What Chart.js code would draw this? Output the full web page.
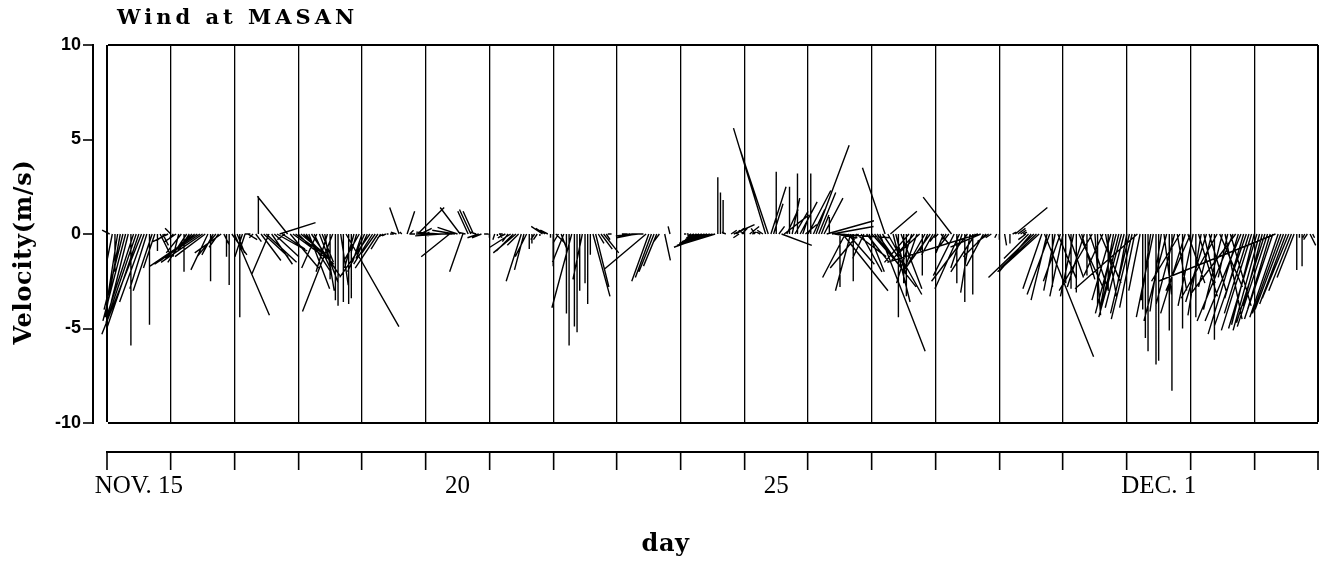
<!DOCTYPE html>
<html>
<head>
<meta charset="utf-8">
<script src="https://cdn.jsdelivr.net/npm/chart.js@4/dist/chart.umd.min.js"></script>
<style>
html,body{margin:0;padding:0;background:#fff;}
#wrap{width:1322px;height:568px;}
</style>
</head>
<body>
<div id="wrap"><canvas id="c" width="1322" height="568"></canvas></div>
<script>
// ---- texts ----
const chartTitle = 'Wind at MASAN';
const yAxisTitle = 'Velocity(m/s)';
const xAxisTitle = 'day';
// one label per day boundary (0 = NOV. 15 00h ... 19 = DEC. 4 00h); drawn mid-day
const dayTickLabels = ['NOV. 15','','','','','20','','','','','25','','','','','','DEC. 1','','',''];
const totalDays = 19;

// ---- hourly wind records: hour since NOV. 15 00h, east (u) and north (v) components, m/s ----
const stickHours = [
  0,1,2,3,4,5,6,7,8,9,10,11,12,13,14,15,16,17,18,19,20,21,22,23,
  24,25,26,27,28,29,30,31,32,33,34,35,36,37,38,39,40,41,42,43,44,45,46,47,
  48,49,50,51,52,53,54,55,56,57,58,59,60,61,62,63,64,65,66,67,68,69,70,71,
  72,73,74,75,76,77,78,79,80,81,82,83,84,85,86,87,88,89,90,91,92,93,94,95,
  96,97,98,99,100,101,102,103,104,105,106,107,108,109,110,111,112,113,114,115,116,117,118,119,
  120,121,122,123,124,125,126,127,128,129,130,131,132,133,134,135,136,137,138,139,140,141,142,143,
  144,145,146,147,148,149,150,151,152,153,154,155,156,157,158,159,160,161,162,163,164,165,166,167,
  168,169,170,171,172,173,174,175,176,177,178,179,180,181,182,183,184,185,186,187,188,189,190,191,
  192,193,194,195,196,197,198,199,200,201,202,203,204,205,206,207,208,209,210,211,212,213,214,215,
  216,217,218,219,220,221,222,223,224,225,226,227,228,229,230,231,232,233,234,235,236,237,238,239,
  240,241,242,243,244,245,246,247,248,249,250,251,252,253,254,255,256,257,258,259,260,261,262,263,
  264,265,266,267,268,269,270,271,272,273,274,275,276,277,278,279,280,281,282,283,284,285,286,287,
  288,289,290,291,292,293,294,295,296,297,298,299,300,301,302,303,304,305,306,307,308,309,310,311,
  312,313,314,315,316,317,318,319,320,321,322,323,324,325,326,327,328,329,330,331,332,333,334,335,
  336,337,338,339,340,341,342,343,344,345,346,347,348,349,350,351,352,353,354,355,356,357,358,359,
  360,361,362,363,364,365,366,367,368,369,370,371,372,373,374,375,376,377,378,379,380,381,382,383,
  384,385,386,387,388,389,390,391,392,393,394,395,396,397,398,399,400,401,402,403,404,405,406,407,
  408,409,410,411,412,413,414,415,416,417,418,419,420,421,422,423,424,425,426,427,428,429,430,431,
  432,433,434,435,436,437,438,439,440,441,442,443,444,445,446,447,448,449,450,451,452,453,454,455
];
const windU = [
  0.0,-0.4,-0.3,0.0,-0.5,-0.8,-1.0,-1.2,-0.9,0.0,-1.4,-1.6,-1.7,-2.1,-1.3,-0.9,0.0,-1.0,-0.6,0.0,0.6,0.3,-0.4,-0.8,
  -0.3,-0.2,-0.6,-0.3,-0.8,0.0,-1.0,-0.6,-1.4,-1.8,-2.5,-2.4,-2.2,-1.6,-0.9,0.0,-0.6,-1.0,-0.5,-1.4,0.3,0.0,0.0,0.8,
  1.85,0.4,0.0,-0.4,-0.2,0.5,-0.3,-0.2,0.3,0.0,1.05,1.3,1.6,-0.9,1.1,1.3,1.6,1.9,1.2,-0.4,-1.6,1.5,1.8,1.4,
  0.8,1.2,1.6,1.3,1.1,1.5,0.9,-0.8,1.0,0.6,0.5,-0.6,0.0,-1.6,0.0,0.0,0.4,0.0,2.8,0.0,0.0,-0.5,-0.3,-0.8,
  -0.5,-0.9,-0.6,-1.6,-1.0,-0.7,-1.2,-0.5,-0.3,-0.2,-0.1,0.0,-0.2,-0.3,-0.5,-0.1,0.0,0.4,0.2,0.1,-0.3,1.4,0.6,0.3,
  0.2,-0.2,-0.4,-0.6,-0.8,-1.2,-1.4,-1.5,-1.6,-1.5,-1.6,-1.2,-1.06,-1.06,-0.7,-0.4,-0.55,-0.6,-0.55,-0.3,-0.6,-0.5,0.2,0.1,
  0.0,0.0,-0.1,0.0,0.1,-0.2,-0.4,-0.3,-1.1,-0.9,-1.2,-0.6,-0.8,-0.5,-0.6,0.0,0.0,-0.2,-0.2,0.0,-0.6,-0.5,-0.4,0.0,
  0.0,0.5,-0.3,0.3,-0.6,0.0,0.0,-1.05,0.0,0.0,0.0,-0.5,0.0,0.0,0.0,0.9,0.7,0.3,0.6,0.8,0.2,0.0,-0.2,0.0,
  0.0,0.0,0.0,-0.1,-0.3,-0.6,-0.9,-1.0,-0.8,-0.5,-0.3,-2.2,-0.9,-0.85,-0.8,-0.7,-0.3,0.0,0.3,0.0,-0.1,0.0,0.0,0.0,
  0.0,0.0,-0.1,-0.1,-0.2,-0.4,-0.6,-0.9,-1.2,-1.4,-1.6,-1.9,-1.8,-1.6,0.0,0.0,0.0,-0.2,0.0,0.3,1.1,0.4,-0.3,0.3,
  -0.3,0.0,0.5,0.2,-0.2,0.0,-0.2,-0.3,-1.7,-1.5,0.8,0.5,0.0,0.3,1.6,1.3,0.6,0.0,0.4,0.7,0.0,0.9,0.3,0.6,
  1.2,0.0,0.6,1.75,0.9,0.4,1.0,2.5,0.0,2.2,1.2,2.8,0.0,2.4,-1.2,1.4,-0.8,0.0,1.6,-1.5,1.1,-0.6,1.2,0.8,
  1.6,2.2,1.0,2.4,1.3,-1.2,1.8,1.4,0.9,0.5,0.0,1.1,0.0,0.0,-1.3,-0.8,-1.2,-0.7,-1.1,0.0,-0.9,-0.4,-1.3,-0.6,
  -0.3,-0.2,0.4,-0.4,-0.2,-0.7,-1.5,-1.1,0.0,-1.3,-0.6,0.0,-1.9,-0.5,0.0,-1.3,-4.8,-1.6,-0.9,-1.2,-0.6,-0.3,0.0,-0.1,
  0.0,0.0,0.1,0.0,0.0,0.2,1.7,0.4,0.3,0.2,-0.4,-1.3,-1.7,-2.4,-1.9,-2.2,-1.0,2.6,-0.85,-1.2,0.0,-0.6,1.0,-0.9,
  -0.7,0.0,0.8,0.0,-0.7,0.0,1.3,0.7,-0.9,0.0,1.0,-1.75,0.3,0.0,1.1,-1.0,0.6,0.0,-1.0,-0.7,-1.1,-0.9,-1.2,-1.0,
  -0.5,-1.0,-1.1,-0.8,-3.3,-0.6,0.0,0.0,0.0,-0.5,-0.9,0.0,0.0,-0.6,0.4,-1.2,0.0,0.0,-1.0,0.5,-1.5,0.0,-1.3,0.9,
  -1.3,-0.8,0.0,1.0,-0.7,0.6,-1.1,0.9,-0.7,0.0,-1.9,1.2,-1.0,0.9,-0.5,1.1,-1.9,-2.4,-1.6,-1.9,-1.0,-1.7,-1.3,-1.6,
  -1.2,-1.5,-1.4,-1.0,-1.5,-1.6,-1.2,-1.5,-6.2,-1.5,-1.5,-1.5,-1.4,-1.4,-1.2,-0.9,0.0,0.0,0.0,-0.1,-0.2,0.3,0.1,0.0
];
const windV = [
  0.0,0.2,-1.5,-2.0,-3.2,-4.4,-4.0,-4.6,-3.6,-5.9,-4.3,-4.7,-5.0,-5.3,-3.6,-2.9,-4.8,-3.0,-1.8,-0.9,-1.2,-0.6,-0.3,-0.4,
  0.3,-0.2,-0.4,-1.2,-1.0,-2.0,-1.5,-0.9,-1.3,-1.4,-1.7,-1.6,-1.5,-1.2,-1.9,-2.5,-1.1,-1.2,-0.7,-1.0,-0.6,-1.2,-2.7,-1.1,
  -4.3,-1.0,-4.4,-1.2,-0.6,-0.3,0.0,-0.2,-0.4,2.0,-1.4,-1.2,-1.5,-2.1,-1.6,-1.2,-0.9,0.6,-0.8,-0.3,2.0,-1.8,-1.3,-1.0,
  -0.8,-1.0,-1.6,-2.0,-2.9,-2.2,-1.9,-1.8,-2.6,-1.5,-3.0,-2.0,-2.4,-4.1,-3.5,-3.8,-2.7,-3.6,-4.9,-3.7,-3.4,-1.8,-1.0,-1.4,
  -1.5,-2.0,-1.3,-2.3,-1.6,-1.0,-1.8,-0.8,-0.2,-0.1,0.0,0.0,0.0,0.1,1.4,0.1,0.0,1.2,0.2,0.0,0.0,1.4,0.3,-0.1,
  0.1,0.0,0.0,0.0,0.0,0.1,-0.1,0.0,0.0,-1.2,0.0,0.2,0.35,1.4,-2.0,0.1,1.2,1.3,1.2,0.1,-0.2,-0.2,0.0,0.0,
  -0.2,0.0,-0.3,-0.1,-0.2,0.0,-0.2,-0.4,-0.7,-0.9,-1.0,-0.6,-2.5,-1.9,-1.2,-0.8,-0.5,-0.3,-0.3,-0.1,0.4,0.3,0.2,-0.2,
  -1.7,-0.5,-0.5,-0.8,-1.5,-4.2,-5.9,-3.9,-4.9,-5.2,-3.0,-2.4,-2.6,-3.7,-1.1,-3.3,-2.8,-0.5,-0.8,-1.0,-0.3,0.0,0.0,0.0,
  0.0,0.0,0.0,0.0,0.0,-0.1,-0.1,-0.2,-0.1,0.0,0.0,-1.85,-2.5,-2.3,-2.0,-1.7,-0.4,0.0,-1.4,0.0,0.4,0.0,0.0,0.0,
  0.0,0.0,0.0,0.0,-0.1,-0.2,-0.3,-0.4,-0.5,-0.6,-0.6,-0.7,-0.6,-0.5,3.0,2.2,1.8,0.1,0.0,0.2,0.5,0.3,-0.2,0.3,
  0.2,0.0,0.4,0.1,0.3,0.0,0.1,0.2,5.6,4.5,2.5,1.6,3.3,0.4,-0.6,1.0,1.3,2.5,1.9,1.2,3.2,1.7,0.9,0.5,
  2.3,3.2,1.3,4.7,2.2,1.0,1.9,0.7,0.9,0.4,-0.2,-0.2,-2.8,-3.0,-2.3,-1.6,-3.0,-2.5,-1.2,-1.8,-2.0,-1.3,-1.5,-2.0,
  -1.8,-2.8,-1.4,-6.2,-1.9,3.5,-3.2,1.2,-3.6,-2.0,-4.4,-2.9,-2.6,-3.3,-1.5,-2.6,-1.4,-2.0,-1.0,-2.2,-1.6,-0.9,-1.8,-1.1,
  -0.4,-0.2,-0.5,-1.0,-0.3,-0.9,1.95,-2.2,-2.6,-2.9,-1.8,-3.6,-2.5,-3.1,-3.2,-2.0,-1.5,-0.7,-1.7,-1.2,-0.4,-0.2,0.0,-0.2,
  -0.3,0.0,-0.6,0.0,-0.5,0.1,1.4,0.3,0.2,0.1,-0.3,-1.3,-2.0,-2.3,-1.8,-2.0,-2.9,-6.5,-3.5,-3.2,-2.8,-3.0,-2.4,-2.5,
  -3.3,-2.6,-2.3,-2.9,-3.3,-3.1,-2.9,-2.4,-2.8,-2.2,-3.0,-3.0,-4.3,-3.8,-2.6,-2.2,-3.4,-3.0,-3.5,-3.9,-4.2,-3.7,-4.4,-3.9,
  -2.7,-4.2,-4.5,-3.9,-2.9,-3.0,-4.0,-5.5,-6.2,-3.5,-4.4,-6.9,-6.7,-4.1,-3.2,-4.6,-5.1,-8.3,-3.8,-3.0,-2.5,-5.0,-4.2,-2.6,
  -3.0,-3.8,-4.4,-3.3,-4.3,-2.6,-3.6,-3.0,-2.8,-5.6,-3.4,-2.8,-4.0,-4.5,-2.3,-3.8,-4.6,-3.2,-5.3,-4.6,-3.4,-4.9,-4.2,-5.1,
  -4.8,-5.0,-5.1,-3.8,-4.7,-4.9,-4.0,-4.5,-2.5,-4.4,-4.2,-4.0,-3.7,-3.4,-3.0,-2.3,-1.9,-0.2,-1.7,-0.2,-0.3,-0.6,-0.2,0.0
];

// equal-aspect stick plot: days of time axis per 1 m/s of east component
const stickScale = 0.2965;

// build stick segments: base on the zero line, tip at (t + u*k, v), gap between sticks
const stickPoints = [];
stickHours.forEach((h, i) => {
  const t = h / 24;
  stickPoints.push({x: t, y: 0});
  stickPoints.push({x: t + windU[i] * stickScale, y: windV[i]});
  stickPoints.push({x: t, y: null});
});

// text styling helper: letter spacing / small shift for titles (wide original lettering)
function wrapDraw(obj, fn, spacing, dx, dy) {
  if (!obj || obj['__w_' + fn]) return;
  const orig = obj[fn];
  obj[fn] = function (...args) {
    const ctx = this.ctx;
    ctx.save();
    ctx.letterSpacing = spacing;
    ctx.translate(dx, dy);
    const r = orig.apply(this, args);
    ctx.restore();
    return r;
  };
  obj['__w_' + fn] = true;
}
const titleStylePlugin = {
  id: 'titleStyle',
  beforeDraw(chart) {
    wrapDraw(chart.titleBlock, 'draw', '4px', 10, 0);
    wrapDraw(chart.scales.x, 'drawTitle', '0.5px', -47, 0);
    wrapDraw(chart.scales.y, 'drawTitle', '0.7px', 0, 18);
  }
};

const serif = 'DejaVu Serif';
new Chart(document.getElementById('c').getContext('2d'), {
  type: 'line',
  data: {
    datasets: [{
      data: stickPoints,
      borderColor: '#000',
      borderWidth: 1.4,
      pointRadius: 0,
      spanGaps: false,
      tension: 0,
      fill: false,
      clip: false
    }]
  },
  options: {
    responsive: false,
    animation: false,
    events: [],
    layout: {padding: {left: 0, right: 4, top: 0, bottom: 0}},
    plugins: {
      legend: {display: false},
      tooltip: {enabled: false},
      title: {
        display: true, text: chartTitle, align: 'start', fullSize: false, color: '#000',
        font: {family: serif, size: 21, weight: 'bold', lineHeight: 1.2},
        padding: {top: 6, bottom: 13.8}
      }
    },
    scales: {
      x: {
        type: 'linear', position: 'bottom', weight: 1, min: 0, max: totalDays,
        afterFit: s => { s.height = 116; },
        ticks: {
          stepSize: 1, autoSkip: false, maxRotation: 0, minRotation: 0,
          labelOffset: 31.9, padding: 1, color: '#000',
          font: {family: 'Liberation Serif', size: 25},
          callback: v => dayTickLabels[v] ?? ''
        },
        grid: {
          drawOnChartArea: true, color: '#000',
          lineWidth: c => (c.tick && (c.tick.value === 0 || c.tick.value === totalDays)) ? 2 : 1.3,
          tickLength: 18, tickColor: '#000', tickWidth: 1.6
        },
        border: {display: true, color: '#000', width: 2},
        title: {
          display: true, text: xAxisTitle, color: '#000',
          font: {family: serif, size: 24, weight: 'bold', lineHeight: 1.2},
          padding: {top: 0, bottom: 8.6}
        }
      },
      xSp: {
        type: 'linear', position: 'bottom', weight: 0, min: 0, max: 1,
        grid: {display: false}, ticks: {display: false}, border: {display: false},
        afterFit: s => { s.height = 29; }
      },
      y: {
        type: 'linear', position: 'left', weight: 1, min: -10, max: 10,
        afterFit: s => { s.width = 93; },
        ticks: {
          stepSize: 5, padding: 2, color: '#000',
          font: {family: 'Liberation Sans', size: 18, weight: 'bold'}
        },
        grid: {
          drawOnChartArea: true,
          color: c => (c.tick && Math.abs(c.tick.value) === 10) ? '#000' : 'rgba(0,0,0,0)',
          lineWidth: 2, tickLength: 10, tickColor: '#000', tickWidth: 1.6
        },
        border: {display: true, color: '#000', width: 2},
        title: {
          display: true, text: yAxisTitle, color: '#000',
          font: {family: serif, size: 24, weight: 'bold', lineHeight: 1.2},
          padding: {top: 10.6, bottom: 0}
        }
      },
      ySp: {
        type: 'linear', position: 'left', weight: 0, min: 0, max: 1,
        grid: {display: false}, ticks: {display: false}, border: {display: false},
        afterFit: s => { s.width = 14; }
      }
    }
  },
  plugins: [titleStylePlugin]
});
</script>
</body>
</html>
